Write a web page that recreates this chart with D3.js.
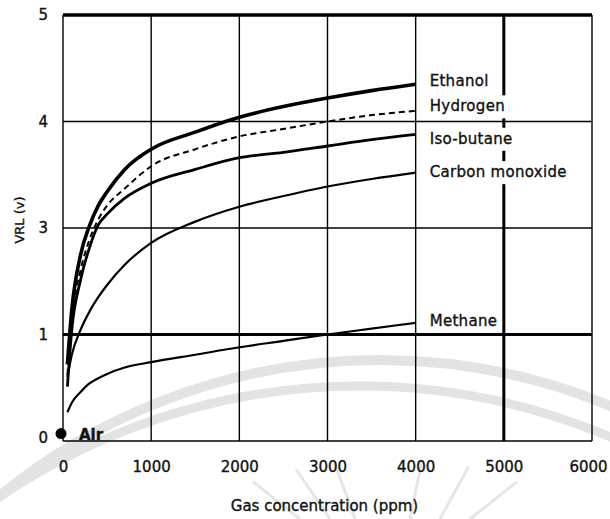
<!DOCTYPE html>
<html>
<head>
<meta charset="utf-8">
<script src="https://cdn.jsdelivr.net/npm/d3@7/dist/d3.min.js"></script>
<style>
  html, body { margin: 0; padding: 0; background: #fff; }
  svg { display: block; }
  text { font-family: "DejaVu Sans", Verdana, sans-serif; fill: #111; stroke: #111; stroke-width: 0.35px; }
</style>
</head>
<body>
<svg id="chart" width="610" height="519"></svg>
<script>
// Sensor output (VRL, volts) versus gas concentration (ppm)
const concentrations = [50, 100, 200, 300, 400, 500, 700, 1000, 1500, 2000, 2500, 3000, 3500, 4000];

const ethanol     = [0.72, 1.47, 2.50, 3.02, 3.21, 3.34, 3.55, 3.74, 3.90, 4.04, 4.14, 4.22, 4.29, 4.35];
const hydrogen    = [0.62, 1.28, 2.21, 2.78, 3.08, 3.21, 3.37, 3.58, 3.74, 3.86, 3.93, 4.00, 4.06, 4.10];
const isoButane   = [0.51, 1.09, 2.03, 2.63, 3.03, 3.13, 3.28, 3.42, 3.55, 3.66, 3.71, 3.77, 3.83, 3.88];
const carbonMonox = [0.60, 0.81, 1.09, 1.43, 1.70, 1.93, 2.31, 2.72, 3.06, 3.20, 3.30, 3.39, 3.46, 3.52];
const methane     = [0.27, 0.36, 0.46, 0.54, 0.59, 0.63, 0.69, 0.74, 0.81, 0.88, 0.94, 1.00, 1.11, 1.22];

const seriesNames = ["Ethanol", "Hydrogen", "Iso-butane", "Carbon monoxide", "Methane"];
const seriesValues = [ethanol, hydrogen, isoButane, carbonMonox, methane];

const airPoint = { ppm: 0, vrl: 0.07, label: "Air" };

const xTicks = [0, 1000, 2000, 3000, 4000, 5000, 6000];
const yTicks = [0, 1, 3, 4, 5];
const yTickLabels = ["0", "1", "3", "4", "5"];

const xTitle = "Gas concentration (ppm)";
const yTitle = "VRL (v)";

// ---- layout ----
const svg = d3.select("#chart");
const margin = { left: 63, right: 18, top: 15, bottom: 78 };
const W = 610, H = 519;
const plotW = W - margin.left - margin.right;
const plotH = H - margin.top - margin.bottom;

const x = d3.scaleLinear().domain([0, 6000]).range([margin.left, margin.left + plotW]);
// gridlines on the VRL axis sit at equal spacing
const y = d3.scaleLinear()
  .domain(yTicks)
  .range(yTicks.map((d, i) => margin.top + plotH - plotH * i / (yTicks.length - 1)));

// faint background arcs and rays
const wm = svg.append("g").attr("fill", "none").attr("stroke", "#e3e3e3");
[[380, 600, 360, 10], [360, 640, 386, 9]].forEach(([cx, r, peak, sw]) => {
  wm.append("circle").attr("cx", cx).attr("cy", peak + r).attr("r", r).attr("stroke-width", sw);
});
const rays = svg.append("g").attr("stroke", "#e6e6e6").attr("stroke-width", 3);
[[-0.9, 300], [-0.6, 330], [-0.35, 355], [0.2, 410], [0.5, 440], [0.9, 470]].forEach(([a, x0]) => {
  rays.append("line").attr("x1", x0).attr("y1", 519).attr("x2", x0 + Math.sin(a) * 60).attr("y2", 519 - Math.cos(a) * 60);
});

// ---- grid ----
const grid = svg.append("g").attr("stroke", "#000");
xTicks.forEach(t => {
  grid.append("line")
    .attr("x1", x(t)).attr("x2", x(t))
    .attr("y1", y(5)).attr("y2", y(0))
    .attr("stroke-width", t === 5000 ? 3 : 1.4);
});
yTicks.forEach(t => {
  grid.append("line")
    .attr("x1", x(0)).attr("x2", x(6000))
    .attr("y1", y(t)).attr("y2", y(t))
    .attr("stroke-width", t === 5 ? 3.5 : (t === 1 ? 3 : 1.4));
});

// ---- axes (labels only, ticks drawn by the grid) ----
const xAxis = d3.axisBottom(x).tickValues(xTicks).tickSize(0).tickPadding(20).tickFormat(d3.format("d"));
svg.append("g").attr("transform", `translate(0,${y(0)})`).call(xAxis)
  .call(g => g.select(".domain").remove())
  .selectAll("text").attr("font-size", 15).attr("font-family", "DejaVu Sans")
  .attr("dx", d => d === 6000 ? -4 : 0);

const yAxis = d3.axisLeft(y).tickValues(yTicks).tickSize(0).tickPadding(15)
  .tickFormat((d, i) => yTickLabels[i]);
svg.append("g").attr("transform", `translate(${x(0)},0)`).call(yAxis)
  .call(g => g.select(".domain").remove())
  .selectAll("text").attr("font-size", 15).attr("font-family", "DejaVu Sans")
  .attr("dy", d => d === 0 ? "0.1em" : "0.32em");

svg.append("text")
  .attr("x", x(0) + plotW / 2 - 3).attr("y", 511)
  .attr("text-anchor", "middle").attr("font-size", 15)
  .text(xTitle);

svg.append("text")
  .attr("transform", `translate(24,${y(3) - 8}) rotate(-90)`)
  .attr("text-anchor", "middle").attr("font-size", 13)
  .text(yTitle);

// ---- curves ----
const line = d3.line()
  .x((d, i) => x(concentrations[i]))
  .y(d => y(d))
  .curve(d3.curveMonotoneX);

const styles = {
  "Ethanol":         { w: 3.6, dash: null },
  "Hydrogen":        { w: 2.0, dash: "6,4" },
  "Iso-butane":      { w: 2.8, dash: null },
  "Carbon monoxide": { w: 2.2, dash: null },
  "Methane":         { w: 2.2, dash: null }
};

seriesNames.forEach((name, k) => {
  svg.append("path")
    .datum(seriesValues[k])
    .attr("fill", "none")
    .attr("stroke", "#000")
    .attr("stroke-width", styles[name].w)
    .attr("stroke-dasharray", styles[name].dash)
    .attr("d", line);
});

// ---- series labels with white backing ----
const labelShift = { "Ethanol": -4, "Hydrogen": -5, "Iso-butane": 4, "Carbon monoxide": -1, "Methane": -2 };
seriesNames.forEach((name, k) => {
  const vals = seriesValues[k];
  const cy = y(vals[vals.length - 1]) + labelShift[name];
  const g = svg.append("g");
  const t = g.append("text")
    .attr("x", x(4000) + 14).attr("y", cy + 5.5)
    .attr("font-size", 15).attr("letter-spacing", 0.3)
    .text(name);
  const bb = t.node().getBBox();
  if (name !== "Methane" && name !== "Ethanol") {
    g.insert("rect", "text")
      .attr("x", bb.x - 2).attr("y", bb.y - 2)
      .attr("width", bb.width + 4).attr("height", bb.height + 5)
      .attr("fill", "#fff");
  }
});

// ---- air baseline point ----
svg.append("circle")
  .attr("cx", x(airPoint.ppm) - 2).attr("cy", y(airPoint.vrl))
  .attr("r", 5.5).attr("fill", "#000");
svg.append("text")
  .attr("x", x(airPoint.ppm) + 16).attr("y", y(airPoint.vrl) + 6)
  .attr("font-size", 15).attr("font-weight", "bold")
  .text(airPoint.label);
</script>
</body>
</html>
